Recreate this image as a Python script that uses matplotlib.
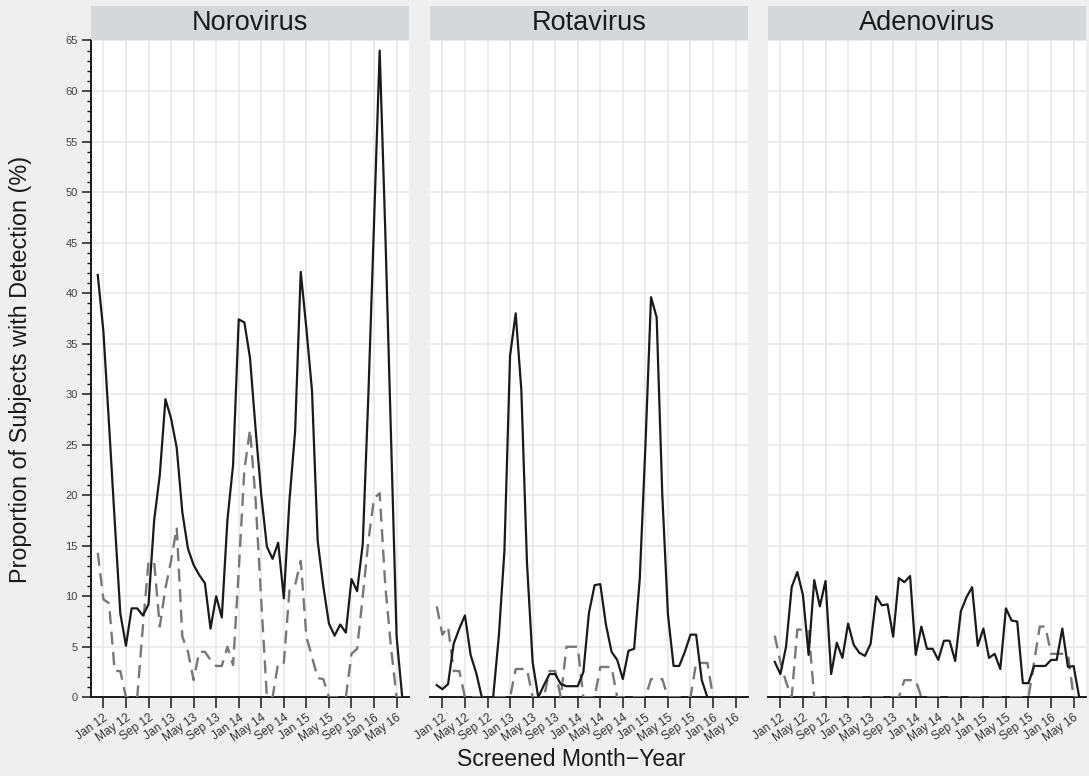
import numpy as np
import pandas as pd
import matplotlib
matplotlib.use("Agg")
import matplotlib.pyplot as plt
from matplotlib.ticker import MultipleLocator

plt.rcParams['font.family'] = ['Liberation Sans', 'DejaVu Sans']

# screened months, Dec 2011 .. Jun 2016
months = list(pd.date_range("2011-12-01", periods=55, freq="MS").strftime("%b %y"))

viruses = ["Norovirus", "Rotavirus", "Adenovirus"]

# solid series
noro_g1 = [41.8, 36.2, 27.0, 17.5, 8.3, 5.1, 8.8, 8.8, 8.1, 9.2,
           17.5, 22.0, 29.5, 27.6, 24.7, 18.3, 14.7, 13.1, 12.1, 11.3,
           6.8, 10.0, 7.9, 17.6, 23.0, 37.4, 37.1, 33.6, 26.5, 20.0,
           14.9, 13.7, 15.3, 9.8, 19.5, 26.3, 42.1, 36.5, 30.3, 15.5,
           11.0, 7.3, 6.1, 7.2, 6.4, 11.7, 10.5, 15.2, 30.0, 47.0,
           64.0, 46.0, 26.0, 6.0, 0.0]
rota_g1 = [1.2, 0.8, 1.3, 5.3, 6.8, 8.1, 4.2, 2.4, 0.0, 0.0,
           0.0, 6.0, 14.5, 33.8, 38.0, 30.4, 13.3, 3.5, 0.0, 1.2,
           2.3, 2.3, 1.3, 1.1, 1.1, 1.1, 2.5, 8.4, 11.1, 11.2,
           7.2, 4.5, 3.7, 1.8, 4.6, 4.8, 11.7, 24.8, 39.6, 37.6,
           20.0, 8.2, 3.1, 3.1, 4.5, 6.2, 6.2, 1.7, 0.0, 0.0,
           0.0, 0.0, 0.0, 0.0, 0.0]
adeno_g1 = [3.5, 2.3, 5.0, 10.9, 12.4, 10.1, 4.2, 11.6, 9.0, 11.5,
            2.3, 5.4, 3.9, 7.3, 5.2, 4.4, 4.1, 5.3, 10.0, 9.1,
            9.2, 6.0, 11.8, 11.4, 12.0, 4.2, 7.0, 4.8, 4.8, 3.7,
            5.6, 5.6, 3.6, 8.5, 9.9, 10.9, 5.1, 6.8, 3.9, 4.3,
            2.8, 8.8, 7.6, 7.5, 1.4, 1.4, 3.1, 3.1, 3.1, 3.7,
            3.7, 6.8, 3.0, 3.1, 0.0]

# dashed series
noro_g2 = [14.3, 9.7, 9.3, 2.6, 2.6, 0.0, 0.0, 0.0, 7.0, 13.4,
           13.4, 7.0, 10.8, 13.5, 16.8, 6.0, 4.5, 1.7, 4.5, 4.5,
           3.7, 3.1, 3.1, 5.0, 3.2, 12.5, 22.5, 26.5, 19.5, 9.5,
           0.0, 0.0, 3.4, 3.4, 10.6, 11.1, 13.5, 6.0, 4.0, 1.9,
           1.8, 0.0, 0.0, 0.0, 0.0, 4.3, 4.8, 10.0, 15.5, 19.7,
           20.2, 11.0, 5.0, 0.0, 0.0]
rota_g2 = [9.0, 6.2, 7.0, 2.6, 2.6, 0.0, 0.0, 0.0, 0.0, 0.0,
           0.0, 0.0, 0.0, 0.0, 2.8, 2.8, 2.8, 0.0, 0.0, 0.0,
           2.6, 2.6, 0.0, 5.0, 5.0, 5.0, 0.0, 0.0, 0.0, 3.0,
           3.0, 3.0, 0.0, 0.0, 0.0, 0.0, 0.0, 0.0, 1.8, 1.8,
           1.8, 0.0, 0.0, 0.0, 0.0, 0.0, 3.4, 3.4, 3.4, 0.0,
           0.0, 0.0, 0.0, 0.0, 0.0]
adeno_g2 = [6.1, 3.5, 1.5, 0.0, 6.7, 6.7, 6.7, 0.0, 0.0, 0.0,
            0.0, 0.0, 0.0, 0.0, 0.0, 0.0, 0.0, 0.0, 0.0, 0.0,
            0.0, 0.0, 0.0, 1.7, 1.7, 1.7, 0.0, 0.0, 0.0, 0.0,
            0.0, 0.0, 0.0, 0.0, 0.0, 0.0, 0.0, 0.0, 0.0, 0.0,
            0.0, 0.0, 0.0, 0.0, 0.0, 0.0, 3.5, 7.0, 7.0, 4.3,
            4.3, 4.3, 4.3, 0.0, 0.0]

g1 = [noro_g1, rota_g1, adeno_g1]
g2 = [noro_g2, rota_g2, adeno_g2]

W, H = 1089, 776
BG = "#efefef"


def main():
    fig = plt.figure(figsize=(W / 100, H / 100), dpi=100, facecolor=BG)
    x = np.arange(len(months))
    lefts = [91, 430, 768]
    pw = 318
    top, bot = 40.5, 697.3

    for k, name in enumerate(viruses):
        ax = fig.add_axes([lefts[k] / W, 1 - bot / H, pw / W, (bot - top) / H])
        ax.set_facecolor("white")
        ax.plot(x, g2[k], color="#777777", lw=1.7, ls=(0, (5.5, 3.2)), zorder=3)
        ax.plot(x, g1[k], color="#1a1a1a", lw=1.6, zorder=4)

        ax.set_xlim(-1.2, 55.2)
        ax.set_ylim(0, 65)
        ax.set_xticks(x[1::4])
        ax.set_xticklabels(months[1::4], rotation=35, ha="right",
                           rotation_mode="anchor", fontsize=8.6, color="#333333")
        ax.yaxis.set_major_locator(MultipleLocator(5))
        ax.grid(True, color="#e9e9e9", lw=1.2)
        ax.set_axisbelow(True)
        ax.tick_params(axis="x", length=8, width=1.1, pad=2.5, color="#1a1a1a")

        for s in ["top", "right"]:
            ax.spines[s].set_visible(False)
        ax.spines["bottom"].set_linewidth(1.4)
        ax.spines["bottom"].set_color("#1a1a1a")

        if k == 0:
            ax.yaxis.set_minor_locator(MultipleLocator(1))
            ax.spines["left"].set_linewidth(1.4)
            ax.spines["left"].set_color("#1a1a1a")
            ax.tick_params(axis="y", which="major", length=6.5, width=1.1,
                           labelsize=8, labelcolor="#444444", pad=3, color="#1a1a1a")
            ax.tick_params(axis="y", which="minor", length=3, width=1.0, color="#1a1a1a")
        else:
            ax.spines["left"].set_visible(False)
            ax.tick_params(axis="y", which="both", length=0, labelleft=False)

        # facet strip
        sax = fig.add_axes([lefts[k] / W, 1 - 39.5 / H, pw / W, (39.5 - 5.7) / H])
        sax.set_facecolor("#d6d7d9")
        sax.set_xticks([])
        sax.set_yticks([])
        for s in sax.spines.values():
            s.set_visible(False)
        sax.text(0.5, 0.5, name, ha="center", va="center", fontsize=19.5,
                 color="#1a1a1a", transform=sax.transAxes)

    fig.text(21 / W, 1 - 369 / H, "Proportion of Subjects with Detection (%)",
             rotation=90, ha="center", va="center", fontsize=16.8, color="#1a1a1a")
    fig.text(571 / W, 1 - 759 / H, "Screened Month\u2212Year",
             ha="center", va="center", fontsize=16.6, color="#1a1a1a")

    out = "out.png"
    fig.savefig(out, dpi=100, facecolor=BG)
    plt.close(fig)
    print("Wrote:", out)


if __name__ == "__main__":
    main()
